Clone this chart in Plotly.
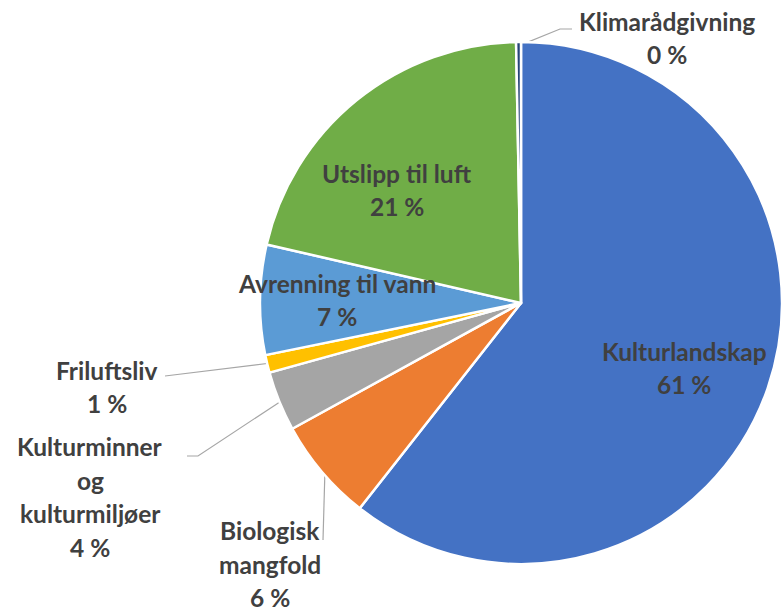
import math
import plotly.graph_objects as go

# ---- data ----
categories = ["Kulturlandskap", "Biologisk mangfold", "Kulturminner og kulturmiljøer",
              "Friluftsliv", "Avrenning til vann", "Utslipp til luft", "Klimarådgivning"]
values = [60.6, 6.4, 3.7, 1.1, 6.8, 21.1, 0.3]
label_lines = [["Kulturlandskap"], ["Biologisk", "mangfold"], ["Kulturminner", "og", "kulturmiljøer"],
               ["Friluftsliv"], ["Avrenning til vann"], ["Utslipp til luft"], ["Klimarådgivning"]]
colors = ["#4472C4", "#ED7D31", "#A5A5A5", "#FFC000", "#5B9BD5", "#70AD47", "#264478"]

# ---- layout (pixels) ----
W, H = 782, 611
CX, CY, R = 521, 303, 261
label_pos = [(684, 368), (270, 564), (90, 497), (107, 387), (337, 300), (397, 190), (667, 38)]
leader_elbows = {6: [(560, 29), (572, 29)], 3: [(165, 376)], 2: [(198, 456), (187, 456)], 1: [(323, 540)]}
LINE_H = 33.5
TEXT_COLOR = "#404040"
FONT = "Lato"
FONT_SIZE = 24.5

total = sum(values)
pct_text = [f"{round(v / total * 100)} %" for v in values]

fig = go.Figure()
fig.add_trace(go.Pie(
    labels=categories, values=values, sort=False, direction="clockwise", rotation=0,
    marker=dict(colors=colors, line=dict(color="white", width=2.5)),
    textinfo="none", hoverinfo="label+percent", showlegend=False,
    domain=dict(x=[(CX - R) / W, (CX + R) / W], y=[(H - CY - R) / H, (H - CY + R) / H]),
))

# leader lines, starting at each slice's mid-angle
cum = 0
for i, v in enumerate(values):
    mid = (cum + v / 2) / total * 2 * math.pi
    cum += v
    if i not in leader_elbows:
        continue
    sx = CX + 0.985 * R * math.sin(mid)
    sy = CY - 0.985 * R * math.cos(mid)
    pts = [(sx, sy)] + leader_elbows[i]
    fig.add_trace(go.Scatter(x=[p[0] for p in pts], y=[p[1] for p in pts], mode="lines",
                             line=dict(color="#A6A6A6", width=1.2), hoverinfo="skip",
                             showlegend=False, xaxis="x", yaxis="y"))

annotations = []
for i, lines in enumerate(label_lines):
    all_lines = lines + [pct_text[i]]
    n = len(all_lines)
    x0, y0 = label_pos[i]
    for k, t in enumerate(all_lines):
        yy = y0 + (k - (n - 1) / 2) * LINE_H
        annotations.append(dict(x=x0, y=yy, xref="x", yref="y", text=t, showarrow=False,
                                font=dict(family=FONT, size=FONT_SIZE, color=TEXT_COLOR, weight="bold"),
                                xanchor="center", yanchor="middle"))

fig.update_layout(
    width=W, height=H, margin=dict(l=0, r=0, t=0, b=0),
    paper_bgcolor="white", plot_bgcolor="rgba(0,0,0,0)",
    xaxis=dict(range=[0, W], visible=False, fixedrange=True, domain=[0, 1]),
    yaxis=dict(range=[H, 0], visible=False, fixedrange=True, domain=[0, 1]),
    annotations=annotations,
)

fig.write_html("out.html", config={"displayModeBar": False},
               post_script="document.body.style.margin='0';document.body.style.overflow='hidden';")
